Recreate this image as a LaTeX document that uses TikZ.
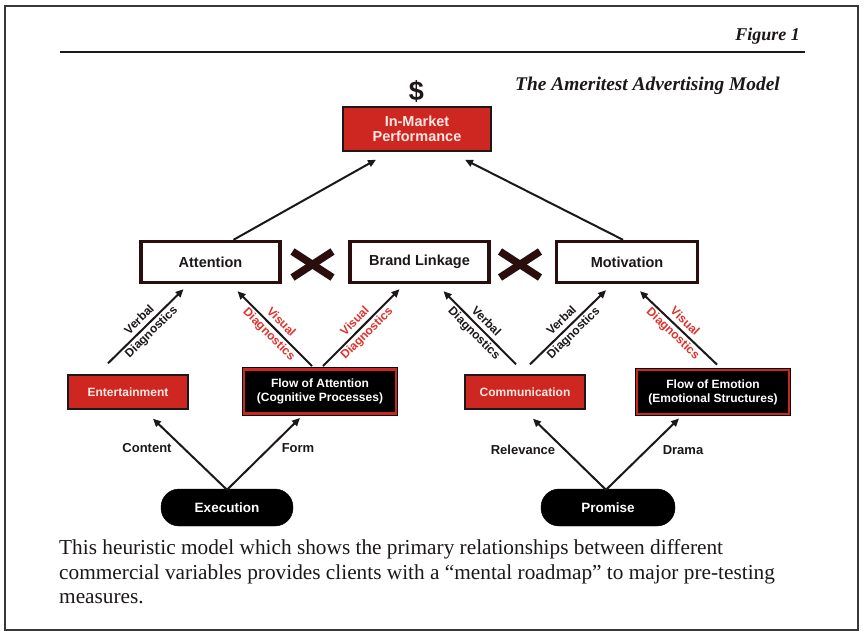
\documentclass[tikz,border=0pt]{standalone}
\usepackage{fontspec}
\setmainfont{Liberation Serif}
\setsansfont{Liberation Sans}
\usetikzlibrary{arrows.meta,calc}
\definecolor{boxred}{RGB}{206,38,32}
\definecolor{labred}{RGB}{224,50,44}
\definecolor{ink}{RGB}{28,24,24}
\definecolor{framegray}{RGB}{55,55,55}
\definecolor{topborder}{RGB}{42,14,14}
\definecolor{pinkwhite}{RGB}{255,232,228}
\begin{document}
\begin{tikzpicture}[x=1pt,y=-1pt,
  topbox/.style={draw=topborder, line width=3.4pt, fill=white, inner sep=0pt,
    minimum height=41pt, font=\sffamily\bfseries\fontsize{14.5}{16}\selectfont, text=ink},
  redbox/.style={draw=ink, line width=1.4pt, fill=boxred, inner sep=0pt,
    text=pinkwhite, align=center},
  flowbox/.style={draw=black, line width=0.9pt, double=boxred, double distance=2.6pt,
    fill=black, inner sep=0pt, minimum width=152pt, minimum height=44pt, text=white,
    align=center, font=\sffamily\bfseries\fontsize{12}{14}\selectfont},
  pill/.style={fill=black, draw=black, rounded corners=18pt, inner sep=0pt,
    minimum height=37pt, text=white, font=\sffamily\bfseries\fontsize{13.5}{15}\selectfont},
  arr/.style={draw=ink, line width=2pt, -{Triangle[length=8pt,width=7pt]}},
  diag/.style={midway, sloped, align=center, inner sep=0pt,
    font=\sffamily\bfseries\fontsize{12}{17}\selectfont},
  edgelab/.style={font=\sffamily\bfseries\fontsize{13}{15}\selectfont, text=ink, inner sep=0pt},
  xmark/.style={draw=topborder, line width=7.5pt},
  caption/.style={anchor=base west, inner sep=0pt, font=\fontsize{21.3}{24}\selectfont, text=ink}
]
\useasboundingbox (0,0) rectangle (865,635);
\fill[white] (0,0) rectangle (865,635);
\draw[framegray, line width=1.8pt] (5,6) rectangle (858,630);

% header
\node[anchor=base east, inner sep=0pt, font=\bfseries\itshape\fontsize{18}{20}\selectfont, text=ink] (fig) at (800,40) {Figure 1};
\draw[ink, line width=1.6pt] (60,52) -- (805,52);
\node[anchor=base east, inner sep=0pt, font=\bfseries\itshape\fontsize{19.4}{21}\selectfont, text=ink] (title) at (780,90) {The Ameritest Advertising Model};
\node[inner sep=0pt, font=\sffamily\bfseries\fontsize{27}{30}\selectfont, text=ink] (dol) at (416.5,91) {\$};

% boxes
\node[redbox, minimum width=148pt, minimum height=44pt, font=\sffamily\bfseries\fontsize{14.5}{14.5}\selectfont] (im) at (417,129) {In-Market\\Performance};

\node[topbox, minimum width=139pt] (att) at (210.5,262) {Attention};
\node[topbox, minimum width=139pt] (bl) at (419.5,262) {Brand Linkage};
\node[topbox, minimum width=141pt] (mot) at (627,262) {Motivation};

\node[redbox, minimum width=120pt, minimum height=34pt, font=\sffamily\bfseries\fontsize{12}{13}\selectfont] (ent) at (128,392) {Entertainment};
\node[flowbox] (foa) at (320,391.5) {Flow of Attention\\(Cognitive Processes)};
\node[redbox, minimum width=120pt, minimum height=34pt, font=\sffamily\bfseries\fontsize{12}{13}\selectfont] (comm) at (525,392) {Communication};
\node[flowbox] (foe) at (713,392) {Flow of Emotion\\(Emotional Structures)};

\node[pill, minimum width=132pt] (exec) at (227,507.5) {Execution};
\node[pill, minimum width=134pt] (prom) at (608,507.5) {Promise};

% X marks
\draw[xmark] (292.5,251.5) -- (332.5,277.5);
\draw[xmark] (292.5,277.5) -- (332.5,251.5);
\draw[xmark] (500,251.5) -- (540,277.5);
\draw[xmark] (500,277.5) -- (540,251.5);

% arrows to In-Market
\draw[arr] ([xshift=23pt]att.north) -- ([xshift=-41pt,yshift=-8pt]im.south);
\draw[arr] ([xshift=-4pt]mot.north) -- ([xshift=48pt,yshift=-8pt]im.south);

% diagnostics arrows
\draw[arr] ([xshift=-20pt,yshift=11pt]ent.north) -- ([xshift=-27pt,yshift=-5pt]att.south)
  node[diag, text=ink] {Verbal\\Diagnostics};
\draw[arr] ([xshift=-8pt,yshift=3pt]foa.north) -- ([xshift=27pt,yshift=-7pt]att.south)
  node[diag, text=labred] {Visual\\Diagnostics};
\draw[arr] ([xshift=3pt,yshift=3pt]foa.north) -- ([xshift=-20pt,yshift=-5pt]bl.south)
  node[diag, text=labred] {Visual\\Diagnostics};
\draw[arr] ([xshift=-9pt,yshift=10pt]comm.north) -- ([xshift=24pt,yshift=-7pt]bl.south)
  node[diag, text=ink] {Verbal\\Diagnostics};
\draw[arr] ([xshift=5pt,yshift=10pt]comm.north) -- ([xshift=-21pt,yshift=-6pt]mot.south)
  node[diag, text=ink] {Verbal\\Diagnostics};
\draw[arr] ([xshift=4pt,yshift=5pt]foe.north) -- ([xshift=13pt,yshift=-7pt]mot.south)
  node[diag, text=labred] {Visual\\Diagnostics};

% bottom arrows
\draw[arr] ([yshift=-1pt]exec.north) -- ([xshift=25pt,yshift=-9pt]ent.south);
\draw[arr] ([yshift=-1pt]exec.north) -- ([xshift=-20pt,yshift=-4pt]foa.south);
\draw[arr] ([xshift=-2pt,yshift=-1pt]prom.north) -- ([xshift=8pt,yshift=-9pt]comm.south);
\draw[arr] ([xshift=-2pt,yshift=-1pt]prom.north) -- ([xshift=-34pt,yshift=-4pt]foe.south);

\node[edgelab] (lcontent) at (147,448) {Content};
\node[edgelab] (lform) at (298,448) {Form};
\node[edgelab] (lrel) at (523,450) {Relevance};
\node[edgelab] (ldrama) at (683,450) {Drama};

% caption
\node[caption] (cap1) at (59,554) {This heuristic model which shows the primary relationships between different};
\node[caption] (cap2) at (59,579) {commercial variables provides clients with a “mental roadmap” to major pre-testing};
\node[caption] (cap3) at (59,603) {measures.};
\end{tikzpicture}
\end{document}
